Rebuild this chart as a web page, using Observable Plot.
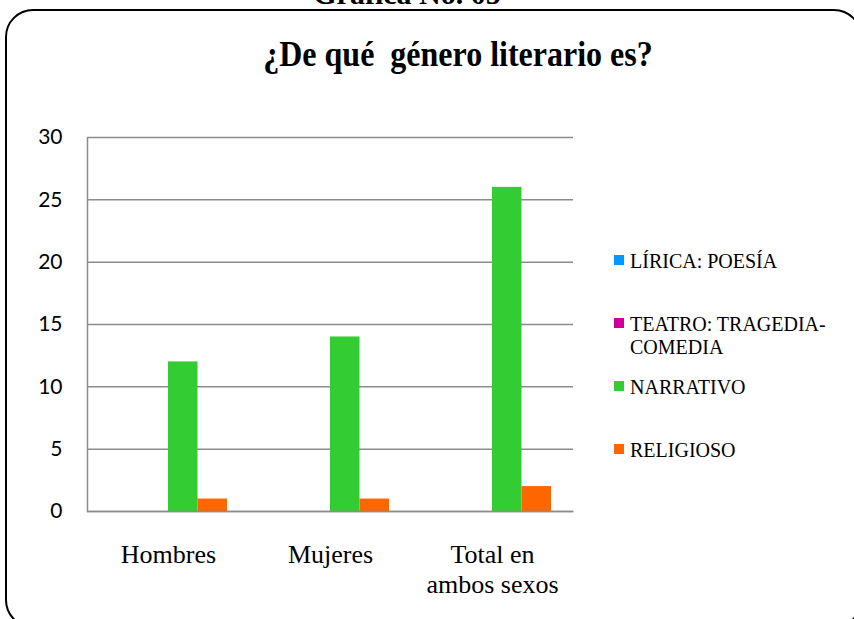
<!DOCTYPE html>
<html>
<head>
<meta charset="utf-8">
<script src="https://cdn.jsdelivr.net/npm/d3@7"></script>
<script src="https://cdn.jsdelivr.net/npm/@observablehq/plot@0.6"></script>
<style>
  html, body { margin: 0; padding: 0; background: #fff; overflow: hidden; }
  #root { position: relative; width: 854px; height: 619px; overflow: hidden; background: #fff; }
  #border { position: absolute; left: 5px; top: 9px; width: 853px; height: 615px; border: 2.5px solid #000; border-radius: 28px; }
  #doc-title { position: absolute; left: 0; width: 814px; top: -21px; text-align: center; font: bold 30px/1 "Liberation Serif", "Times New Roman", serif; color: #000; white-space: nowrap; }
  #chart-title { position: absolute; left: 0; width: 916px; top: 40px; text-align: center; font: bold 32px/1 "Liberation Serif", "Times New Roman", serif; color: #000; white-space: pre; transform: scaleY(1.15); transform-origin: 50% 100%; }
  #chart { position: absolute; left: 0; top: 0; }
  #legend { position: absolute; left: 614px; top: 250px; }
  .item { display: flex; align-items: flex-start; height: 63px; }
  .sw { width: 10px; height: 10px; margin-top: 5px; margin-right: 6px; flex: none; }
  .lab { font: 20px/23px "Liberation Serif", "Times New Roman", serif; color: #000; white-space: pre-line; }
</style>
</head>
<body>
<div id="root">
  <div id="border"></div>
  <div id="doc-title"></div>
  <div id="chart-title"></div>
  <div id="chart"></div>
  <div id="legend"></div>
</div>
<script>
// ---- data ----
const docTitle = "Gráfica No. 05";
const chartTitle = "¿De qué  género literario es?";
const categories = ["Hombres", "Mujeres", "Total en ambos sexos"];
const categoryLabels = ["Hombres", "Mujeres", "Total en\nambos sexos"];
const series = ["LÍRICA: POESÍA", "TEATRO: TRAGEDIA-COMEDIA", "NARRATIVO", "RELIGIOSO"];
const legendLabels = ["LÍRICA: POESÍA", "TEATRO: TRAGEDIA-\nCOMEDIA", "NARRATIVO", "RELIGIOSO"];
const lirica = [0, 0, 0];
const teatro = [0, 0, 0];
const narrativo = [12, 14, 26];
const religioso = [1, 1, 2];
const colors = ["#0099FF", "#CC0099", "#33CC33", "#FF6600"];
const yTicks = [0, 5, 10, 15, 20, 25, 30];

// ---- layout ----
const W = 854, H = 619;
const mL = 87, mR = 281, mT = 137, mB = 108;
const innerW = W - mL - mR;
const innerH = H - mT - mB;
const padInner = 0.2716, padOuter = 0.1358;
const step = innerW / (categories.length - padInner + 2 * padOuter);
const bw = step * (1 - padInner);
const slot = bw / series.length;
const seriesValues = [lirica, teatro, narrativo, religioso];

document.getElementById("doc-title").textContent = docTitle;
document.getElementById("chart-title").textContent = chartTitle;

const barMarks = series.map((s, i) =>
  Plot.barY(
    categories.map((c, j) => ({category: c, series: s, value: seriesValues[i][j]})),
    {
      x: "category",
      y: "value",
      fill: colors[i],
      insetLeft: i * slot,
      insetRight: (series.length - 1 - i) * slot
    }
  )
);

const chart = Plot.plot({
  width: W,
  height: H,
  marginLeft: mL,
  marginRight: mR,
  marginTop: mT,
  marginBottom: mB,
  style: { fontFamily: "Lato, 'Open Sans', sans-serif", fontSize: "21px", color: "#000", background: "transparent", overflow: "visible" },
  x: { domain: categories, paddingInner: padInner, paddingOuter: padOuter, axis: null },
  y: { domain: [0, 30], ticks: yTicks, tickSize: 0, tickPadding: 25, tickFormat: d => String(d), label: null },
  marks: [
    Plot.ruleY(yTicks, { stroke: "#8c8c8c", strokeWidth: 1.5 }),
    ...barMarks,
    Plot.frame({ stroke: "#8c8c8c", strokeWidth: 1.5, strokeDasharray: `0 ${innerW + innerH} ${innerW + innerH}` }),
    Plot.text(categories, {
      x: d => d,
      text: (d, i) => categoryLabels[i],
      frameAnchor: "bottom",
      lineAnchor: "top",
      dy: 30,
      lineHeight: 1.15,
      fontFamily: "'Liberation Serif', 'Times New Roman', serif",
      fontSize: 26,
      fill: "#000"
    })
  ]
});
document.getElementById("chart").appendChild(chart);

const legend = document.getElementById("legend");
series.forEach((s, i) => {
  const item = document.createElement("div");
  item.className = "item";
  const sw = document.createElement("div");
  sw.className = "sw";
  sw.style.background = colors[i];
  const lab = document.createElement("div");
  lab.className = "lab";
  lab.textContent = legendLabels[i];
  item.appendChild(sw);
  item.appendChild(lab);
  legend.appendChild(item);
});
</script>
</body>
</html>
